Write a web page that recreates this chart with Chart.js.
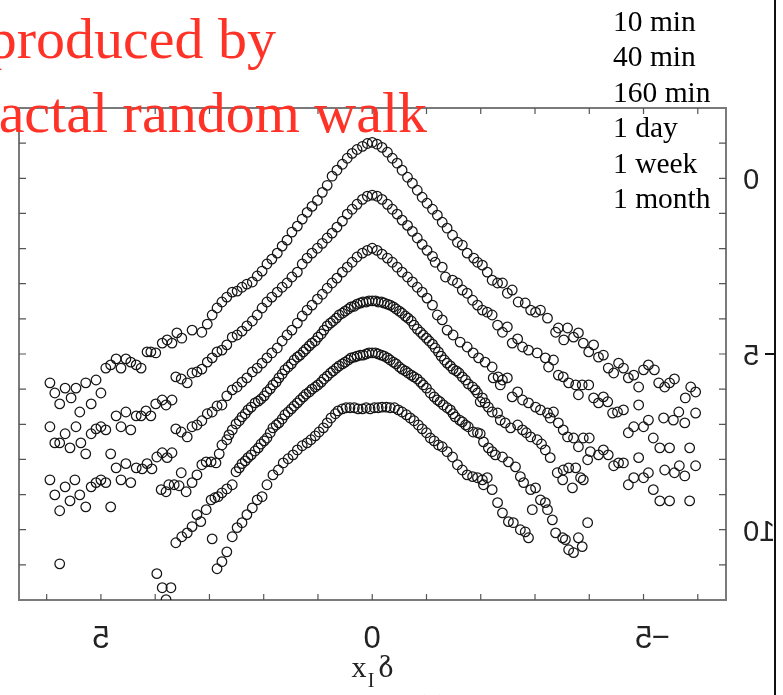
<!DOCTYPE html>
<html>
<head>
<meta charset="utf-8">
<title>Distribuciones de incrementos</title>
<script src="https://cdn.jsdelivr.net/npm/chart.js@4"></script>
<style>
  body { margin: 0; background: #fff; }
  canvas { display: block; }
</style>
</head>
<body>
<canvas id="grafico" width="783" height="695"></canvas>
<script>
// Nombres de las series (escalas de tiempo)
const seriesLabels = ['10 min', '40 min', '160 min', '1 day', '1 week', '1 month'];

// Etiquetas de los ejes (valores)
const xTickLabels = [5, 0, -5];
const yTickLabels = [0, 5, 10];

// Textos del titulo
const tituloLineas = ['Data produced by', 'multifractal random walk'];

// Puntos [x, y], una lista por serie
const min10 = [
  [5.94,5.82],[5.85,6.11],[5.76,6.42],[5.66,5.97],[5.55,6.25],[5.46,5.97],[5.39,6.65],[5.28,5.82],[5.18,6.42],[5.09,5.74],[5.00,6.11],
  [4.91,5.40],[4.82,5.31],[4.72,5.14],[4.63,5.40],[4.54,5.14],[4.45,5.23],[4.35,5.31],[4.26,5.40],[4.15,4.94],[4.08,4.94],[3.99,4.97],
  [3.87,4.69],[3.78,4.60],[3.69,4.69],[3.60,4.40],[3.51,4.55],[3.32,4.32],
  [3.14,4.38],[3.04,4.15],[2.95,3.89],[2.86,3.69],[2.77,3.52],[2.68,3.38],[2.58,3.24],[2.49,3.21],[2.40,3.10],[2.31,3.01],[2.21,2.95],
  [2.12,2.78],[2.03,2.64],[1.94,2.44],[1.85,2.30],[1.75,2.13],[1.66,1.93],[1.57,1.76],[1.48,1.53],[1.38,1.36],[1.29,1.16],[1.20,0.97],
  [1.11,0.80],[1.01,0.63],[0.92,0.40],[0.83,0.20],[0.74,-0.06],[0.65,-0.23],[0.55,-0.40],[0.46,-0.57],[0.37,-0.71],[0.28,-0.82],
  [0.18,-0.91],[0.09,-0.99],[0,-1.02],
  [-0.09,-0.97],[-0.18,-0.88],[-0.28,-0.74],[-0.37,-0.57],[-0.46,-0.43],[-0.55,-0.23],[-0.65,-0.03],[-0.74,0.14],[-0.83,0.34],
  [-0.92,0.54],[-1.01,0.71],[-1.11,0.88],[-1.20,1.05],[-1.29,1.25],[-1.38,1.42],[-1.48,1.62],[-1.57,1.82],[-1.66,1.90],[-1.75,2.13],
  [-1.87,2.27],[-1.94,2.39],[-2.03,2.47],[-2.12,2.67],[-2.21,2.90],[-2.31,2.98],[-2.40,2.98],[-2.49,3.27],[-2.58,3.18],[-2.69,3.52],
  [-2.82,3.55],[-2.92,3.75],[-3.01,3.81],[-3.10,3.75],[-3.23,3.98],[-3.38,4.38],[-3.43,4.26],[-3.53,4.60],[-3.60,4.26],[-3.71,4.52],
  [-3.80,4.40],[-3.89,4.69],[-3.99,4.94],[-4.08,4.74],[-4.17,5.09],[-4.26,5.03],[-4.35,5.40],[-4.45,5.54],[-4.54,5.26],[-4.63,5.40],
  [-4.72,5.68],[-4.82,5.60],[-4.91,5.94],[-5.00,5.45],[-5.09,5.31],[-5.20,5.45],[-5.28,5.82],[-5.39,5.94],[-5.48,5.82],[-5.57,5.71],
  [-5.77,6.25],[-5.87,5.94],[-5.96,6.08]
];

const min40 = [
  [5.94,7.07],[5.85,7.53],[5.76,7.53],[5.66,7.27],[5.57,7.67],[5.46,7.07],[5.37,7.53],[5.28,7.84],[5.18,7.27],[5.09,7.13],[5.00,7.07],
  [4.91,7.16],[4.82,7.84],[4.72,6.76],[4.63,7.07],[4.54,6.65],[4.45,7.16],[4.35,6.76],[4.26,6.76],[4.17,6.62],[4.08,6.76],[3.99,6.42],
  [3.87,6.31],[3.80,6.45],[3.69,6.31],
  [3.62,5.65],[3.52,5.71],[3.41,5.82],[3.32,5.54],[3.23,5.51],[3.14,5.43],[3.04,5.23],[2.95,5.11],[2.86,4.94],[2.77,4.89],[2.68,4.74],
  [2.58,4.52],[2.49,4.46],[2.40,4.35],[2.31,4.20],[2.21,4.06],[2.12,3.89],[2.03,3.69],[1.94,3.52],[1.85,3.38],[1.75,3.24],[1.66,3.10],
  [1.57,2.98],[1.48,2.81],[1.38,2.67],[1.29,2.44],[1.20,2.27],[1.11,2.13],[1.01,1.99],[0.92,1.85],[0.83,1.70],[0.74,1.56],[0.65,1.39],
  [0.55,1.22],[0.46,1.02],[0.37,0.88],[0.28,0.74],[0.18,0.60],[0.09,0.51],[0,0.48],
  [-0.09,0.51],[-0.18,0.60],[-0.28,0.74],[-0.37,0.88],[-0.46,1.02],[-0.55,1.19],[-0.65,1.34],[-0.74,1.51],[-0.83,1.70],[-0.92,1.88],
  [-1.01,2.05],[-1.11,2.22],[-1.16,2.39],[-1.29,2.53],[-1.35,2.81],[-1.48,2.90],[-1.57,2.98],[-1.66,3.18],[-1.75,3.27],[-1.85,3.47],
  [-1.94,3.61],[-2.03,3.75],[-2.12,3.81],[-2.21,3.89],[-2.31,4.18],[-2.40,4.38],[-2.49,4.23],[-2.58,4.69],[-2.68,4.57],[-2.77,4.80],
  [-2.88,4.89],[-3.04,4.97],[-3.19,5.11],[-3.25,5.37],[-3.34,5.17],[-3.43,5.60],[-3.52,5.65],[-3.62,5.82],[-3.75,5.88],[-3.80,6.16],
  [-3.87,5.88],[-3.99,5.88],[-4.08,6.25],[-4.17,6.39],[-4.26,6.22],[-4.34,6.36],[-4.43,6.68],[-4.52,6.65],[-4.63,6.59],[-4.72,7.24],
  [-4.82,7.07],[-4.91,6.45],[-5.00,7.07],[-5.09,6.88],[-5.18,7.39],[-5.30,7.67],[-5.37,6.82],[-5.48,7.67],[-5.55,6.88],[-5.65,6.65],
  [-5.76,6.96],[-5.85,7.67],[-5.96,6.68]
];

const min160 = [
  [5.94,8.58],[5.85,9.01],[5.76,9.46],[5.76,10.97],[5.66,8.78],[5.57,9.18],[5.48,8.58],[5.39,9.01],[5.28,9.35],[5.18,8.78],[5.09,8.66],
  [5.00,8.58],[4.91,8.66],[4.82,9.35],[4.72,8.24],[4.63,8.58],[4.54,8.12],[4.45,8.66],[4.35,8.24],[4.24,8.27],[4.15,8.12],[4.06,8.27],
  [3.97,7.93],[3.87,7.81],[3.78,7.95],[3.69,7.81],
  [3.62,7.13],[3.52,7.22],[3.41,7.36],[3.32,7.07],[3.23,7.02],[3.14,6.90],[3.04,6.70],[2.95,6.65],[2.86,6.48],[2.77,6.45],[2.68,6.19],
  [2.58,6.02],[2.49,5.94],[2.40,5.80],[2.31,5.68],[2.21,5.51],[2.12,5.40],[2.03,5.26],[1.94,5.11],[1.85,4.97],[1.75,4.83],[1.66,4.63],
  [1.57,4.46],[1.48,4.32],[1.38,4.12],[1.29,3.92],[1.20,3.75],[1.11,3.61],[1.01,3.44],[0.92,3.30],[0.83,3.13],[0.74,2.98],[0.65,2.84],
  [0.55,2.67],[0.46,2.53],[0.37,2.39],[0.28,2.24],[0.18,2.13],[0.09,2.05],[0,1.99],
  [-0.09,2.05],[-0.18,2.16],[-0.28,2.27],[-0.37,2.39],[-0.46,2.53],[-0.55,2.67],[-0.65,2.81],[-0.74,2.95],[-0.83,3.10],[-0.92,3.24],
  [-1.01,3.41],[-1.11,3.61],[-1.20,3.89],[-1.29,4.03],[-1.38,4.32],[-1.49,4.46],[-1.62,4.66],[-1.75,4.80],[-1.86,4.97],[-1.96,5.11],
  [-2.08,5.23],[-2.21,5.37],[-2.23,5.68],[-2.32,5.65],[-2.36,5.88],[-2.40,5.74],[-2.49,5.68],[-2.58,6.22],[-2.68,6.08],[-2.77,6.31],
  [-2.88,6.39],[-3.01,6.51],[-3.10,6.59],[-3.23,6.68],[-3.28,6.82],[-3.34,6.65],[-3.43,6.96],[-3.52,7.16],[-3.60,7.36],[-3.71,7.39],
  [-3.80,7.64],[-3.89,7.39],[-3.97,8.01],[-4.00,7.39],[-4.02,7.78],[-4.17,7.87],[-4.26,7.73],[-4.35,7.87],[-4.45,8.18],[-4.54,8.10],
  [-4.63,8.10],[-4.72,8.72],[-4.82,8.52],[-4.91,7.95],[-5.00,8.52],[-5.09,8.38],[-5.18,8.86],[-5.30,9.18],[-5.39,8.30],[-5.48,9.18],
  [-5.57,8.38],[-5.66,8.18],[-5.76,8.47],[-5.85,9.18],[-5.96,8.18]
];

const day1 = [
  [3.89,8.86],[3.80,8.92],[3.75,8.72],[3.65,8.72],[3.56,8.75],[3.52,8.38],[3.43,8.92],[3.32,8.66],[3.23,8.44],[3.14,8.15],[3.06,8.07],
  [2.97,8.07],[2.88,8.10],[2.82,7.84],[2.77,7.59],[2.68,7.44],[2.64,7.30],[2.58,7.16],[2.51,6.99],[2.45,6.90],[2.40,6.79],[2.34,6.70],
  [2.29,6.59],[2.23,6.51],[2.16,6.39],[2.10,6.34],[2.05,6.28],[1.99,6.19],[1.94,6.08],[1.88,5.99],[1.83,5.88],[1.77,5.80],[1.72,5.68],
  [1.66,5.57],[1.61,5.45],[1.55,5.37],[1.49,5.28],[1.44,5.17],[1.38,5.09],[1.33,5.03],[1.27,4.94],[1.22,4.86],[1.16,4.77],[1.11,4.69],
  [1.05,4.63],[1.00,4.52],[0.94,4.43],[0.89,4.32],[0.83,4.20],[0.77,4.12],[0.72,4.06],[0.66,3.98],[0.61,3.89],[0.55,3.84],[0.50,3.78],
  [0.44,3.72],[0.39,3.66],[0.33,3.64],[0.28,3.58],[0.22,3.55],[0.17,3.52],[0.11,3.52],[0.06,3.49],[0,3.49],
  [-0.06,3.49],[-0.11,3.52],[-0.17,3.52],[-0.22,3.55],[-0.28,3.58],[-0.33,3.61],[-0.39,3.66],[-0.44,3.72],[-0.50,3.78],[-0.55,3.84],
  [-0.61,3.92],[-0.66,3.98],[-0.72,4.06],[-0.77,4.18],[-0.83,4.29],[-0.89,4.38],[-0.94,4.46],[-1.00,4.55],[-1.05,4.63],[-1.11,4.72],
  [-1.16,4.83],[-1.22,4.94],[-1.27,5.06],[-1.33,5.17],[-1.38,5.26],[-1.44,5.34],[-1.49,5.43],[-1.55,5.48],[-1.60,5.54],[-1.66,5.65],
  [-1.72,5.74],[-1.77,5.85],[-1.85,5.94],[-1.90,6.02],[-1.94,6.11],[-1.99,6.36],[-2.03,6.25],[-2.08,6.39],[-2.14,6.51],[-2.21,6.65],
  [-2.31,6.68],[-2.36,6.88],[-2.45,6.96],[-2.55,7.10],[-2.68,7.02],[-2.77,7.16],[-2.84,7.24],[-2.92,7.36],[-3.04,7.44],[-3.12,7.56],
  [-3.19,7.73],[-3.28,7.95],[-3.41,8.38],[-3.51,8.58],[-3.52,8.30],[-3.62,8.24],[-3.69,8.81],[-3.75,8.24],[-3.84,8.52],[-3.89,8.58]
];

const week1 = [
  [3.97,11.25],[3.87,11.65],[3.80,11.99],[3.71,11.65],[3.62,10.37],[3.51,10.20],[3.41,10.09],[3.32,9.91],[3.23,9.57],[3.16,9.77],
  [3.06,9.43],[2.97,9.15],[2.90,9.09],[2.84,9.06],[2.77,8.95],[2.68,8.84],[2.58,8.72],[2.51,8.35],[2.45,8.24],[2.40,8.12],[2.34,8.04],
  [2.29,7.95],[2.23,7.87],[2.16,7.76],[2.10,7.67],[2.05,7.56],[1.99,7.47],[1.94,7.39],[1.88,7.24],[1.83,7.10],[1.77,7.02],[1.72,6.96],
  [1.66,6.85],[1.61,6.73],[1.55,6.65],[1.49,6.56],[1.44,6.48],[1.38,6.39],[1.33,6.31],[1.27,6.22],[1.22,6.14],[1.16,6.08],[1.11,6.00],
  [1.05,5.94],[1.00,5.88],[0.94,5.80],[0.89,5.71],[0.83,5.63],[0.77,5.54],[0.72,5.48],[0.66,5.40],[0.61,5.34],[0.55,5.28],[0.50,5.23],
  [0.44,5.17],[0.39,5.11],[0.33,5.09],[0.28,5.06],[0.22,5.03],[0.17,5.03],[0.11,5.00],[0.06,4.97],[0,4.97],
  [-0.06,4.97],[-0.11,5.00],[-0.17,5.03],[-0.22,5.06],[-0.28,5.11],[-0.33,5.17],[-0.39,5.23],[-0.44,5.28],[-0.50,5.37],[-0.55,5.43],
  [-0.61,5.48],[-0.66,5.54],[-0.72,5.60],[-0.77,5.65],[-0.83,5.71],[-0.89,5.80],[-0.94,5.88],[-1.00,5.97],[-1.07,6.11],[-1.14,6.22],
  [-1.20,6.31],[-1.25,6.36],[-1.31,6.45],[-1.38,6.53],[-1.44,6.59],[-1.49,6.70],[-1.53,6.79],[-1.61,6.88],[-1.66,6.93],[-1.72,7.02],
  [-1.77,7.07],[-1.86,7.22],[-1.94,7.24],[-1.99,7.27],[-2.05,7.50],[-2.14,7.67],[-2.21,7.78],[-2.27,7.87],[-2.40,7.93],[-2.51,8.07],
  [-2.64,8.21],[-2.73,8.49],[-2.79,8.66],[-2.92,8.86],[-2.95,9.43],[-3.01,8.81],[-3.10,9.15],[-3.19,9.23],[-3.23,9.43],[-3.32,9.72],
  [-3.38,10.09],[-3.51,10.23],[-3.56,10.28],[-3.62,10.57],[-3.71,10.65],[-3.80,10.23],[-3.87,10.48],[-3.97,9.80]
];

const month1 = [
  [2.95,10.26],[2.86,11.11],[2.77,10.91],[2.68,10.63],[2.58,10.20],[2.49,9.94],[2.40,9.80],[2.31,9.57],[2.21,9.38],[2.12,9.15],
  [2.03,9.06],[1.94,8.72],[1.83,8.44],[1.73,8.30],[1.64,8.10],[1.55,7.98],[1.46,7.87],[1.38,7.73],[1.29,7.61],[1.20,7.53],[1.13,7.44],
  [1.05,7.33],[0.98,7.22],[0.90,7.10],[0.83,6.96],[0.76,6.82],[0.68,6.70],[0.63,6.62],[0.55,6.56],[0.48,6.53],[0.41,6.53],[0.33,6.53],
  [0.26,6.56],[0.18,6.56],[0.11,6.53],[0.04,6.56],
  [-0.04,6.53],[-0.11,6.53],[-0.18,6.51],[-0.26,6.51],[-0.33,6.53],[-0.41,6.53],[-0.48,6.59],[-0.55,6.65],[-0.63,6.73],[-0.70,6.82],
  [-0.77,6.90],[-0.85,7.02],[-0.92,7.13],[-1.00,7.24],[-1.07,7.39],[-1.14,7.47],[-1.22,7.59],[-1.29,7.64],[-1.38,7.78],[-1.48,7.93],
  [-1.57,8.15],[-1.66,8.30],[-1.75,8.44],[-1.85,8.49],[-1.94,8.52],[-2.03,8.58],[-2.05,8.72],[-2.12,8.52],[-2.21,8.86],[-2.31,9.23],
  [-2.40,9.52],[-2.51,9.77],[-2.60,9.80],[-2.73,10.00],[-2.82,10.06],[-2.88,10.23]
];

const todasLasSeries = [min10, min40, min160, day1, week1, month1];

// Dibuja un texto reflejado horizontalmente (como en la figura original)
function textoEspejo(ctx, txt, x, y, align) {
  ctx.save();
  ctx.translate(x, y);
  ctx.scale(-1, 1);
  ctx.textAlign = align || 'center';
  ctx.fillText(txt, 0, 0);
  ctx.restore();
}

// Plugin: marco, marcas hacia adentro, etiquetas y textos
const marco = {
  id: 'marco',
  beforeDatasetsDraw(chart) {
    const { ctx, chartArea: a, scales: { x, y } } = chart;
    ctx.save();
    ctx.strokeStyle = '#7a7a7a';
    ctx.lineWidth = 2;
    ctx.strokeRect(a.left, a.top, a.right - a.left, a.bottom - a.top);

    ctx.lineWidth = 1.2;
    ctx.strokeStyle = '#555';
    ctx.beginPath();
    for (let v = -6; v <= 6; v++) {
      const px = x.getPixelForValue(v);
      ctx.moveTo(px, a.bottom); ctx.lineTo(px, a.bottom - 6);
      ctx.moveTo(px, a.top); ctx.lineTo(px, a.top + 6);
    }
    for (let v = -1; v <= 11; v++) {
      const py = y.getPixelForValue(v);
      ctx.moveTo(a.left, py); ctx.lineTo(a.left + 7, py);
      ctx.moveTo(a.right, py); ctx.lineTo(a.right - 7, py);
    }
    ctx.stroke();
    ctx.restore();
  },
  afterDraw(chart) {
    const { ctx, chartArea: a, scales: { x, y } } = chart;
    ctx.save();

    // Etiquetas del eje x (reflejadas)
    ctx.fillStyle = '#222';
    ctx.font = '31px "Liberation Sans"';
    ctx.textBaseline = 'alphabetic';
    xTickLabels.forEach(v => {
      const px = x.getPixelForValue(v);
      textoEspejo(ctx, String(Math.abs(v)), px, 648);
      if (v < 0) {
        ctx.textAlign = 'center';
        ctx.fillText('\u2212', px + 17, 647);
      }
    });

    // Etiquetas del eje y (reflejadas, a la derecha)
    ctx.font = '29px "Liberation Sans"';
    yTickLabels.forEach(v => {
      const py = y.getPixelForValue(v);
      textoEspejo(ctx, String(v), 743, py + 11, 'right');
    });

    // Titulo del eje x
    ctx.font = '30px "Liberation Serif"';
    ctx.textAlign = 'center';
    ctx.fillText('x', 359, 677);
    ctx.font = '20px "Liberation Serif"';
    ctx.fillText('I', 371, 687);
    ctx.font = '32px "Liberation Serif"';
    textoEspejo(ctx, '\u03b4', 386, 677);
    ctx.font = '28px "Liberation Serif"';
    ctx.fillText('(c)', 432, 714);

    // Linea del panel vecino
    ctx.strokeStyle = '#111';
    ctx.lineWidth = 2;
    ctx.beginPath();
    ctx.moveTo(775, 0); ctx.lineTo(775, 695);
    const p5 = y.getPixelForValue(5);
    ctx.moveTo(765, p5); ctx.lineTo(775, p5);
    ctx.stroke();

    // Leyenda como texto simple
    ctx.fillStyle = '#000';
    ctx.font = '29.5px "Liberation Serif"';
    ctx.textAlign = 'left';
    chart.data.datasets.forEach((ds, i) => {
      ctx.fillText(ds.label, 613, 31 + i * 35.4);
    });

    // Titulo en rojo (cortado por el borde izquierdo)
    ctx.fillStyle = '#ff3228';
    ctx.font = '58px "Liberation Serif"';
    ctx.textAlign = 'right';
    ctx.fillText(tituloLineas[0], 276, 58);
    ctx.fillText(tituloLineas[1], 427, 132);

    ctx.restore();
  }
};

// Armamos los datasets a partir de las listas
const datasets = todasLasSeries.map((serie, i) => ({
  label: seriesLabels[i],
  data: serie.map(p => ({ x: p[0], y: p[1] })),
  pointStyle: 'circle',
  pointRadius: 4.8,
  pointBorderWidth: 1.25,
  borderColor: '#151515',
  backgroundColor: 'rgba(0,0,0,0)',
  showLine: false
}));

const ctx = document.getElementById('grafico').getContext('2d');

new Chart(ctx, {
  type: 'scatter',
  data: { datasets },
  options: {
    responsive: false,
    animation: false,
    devicePixelRatio: 1,
    layout: { padding: { left: 19, top: 108, right: 57, bottom: 95 } },
    scales: {
      x: { type: 'linear', reverse: true, min: -6.52, max: 6.51, display: false },
      y: { type: 'linear', reverse: true, min: -2, max: 12, display: false }
    },
    plugins: {
      legend: { display: false },
      tooltip: { enabled: false }
    }
  },
  plugins: [marco]
});
</script>
</body>
</html>
